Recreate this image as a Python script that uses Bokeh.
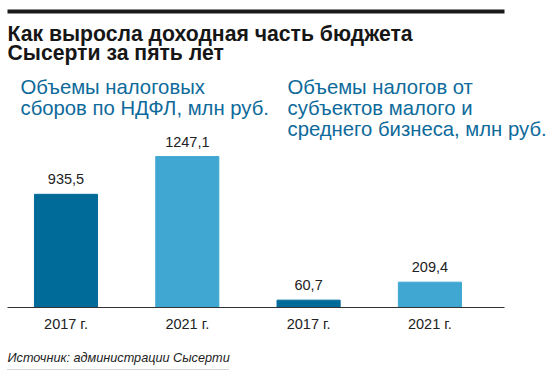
from bokeh.plotting import figure
from bokeh.models import Label, Range1d, ColumnDataSource
from bokeh.core.properties import value
from bokeh.embed import file_html
from bokeh.resources import INLINE

# ---- data ----
categories = ["2017 г.", "2021 г.", "2017 г.", "2021 г."]
groups = ["НДФЛ", "НДФЛ", "МСБ", "МСБ"]
values = [935.5, 1247.1, 60.7, 209.4]
colors = ["#006a99", "#3fa7d1", "#006a99", "#3fa7d1"]
title_lines = ["Как выросла доходная часть бюджета", "Сысерти за пять лет"]
left_sub = ["Объемы налоговых", "сборов по НДФЛ, млн руб."]
right_sub = ["Объемы налогов от", "субъектов малого и", "среднего бизнеса, млн руб."]
source_text = "Источник: администрации Сысерти"

# ---- layout (pixels) ----
W, H = 551, 377
X_PX = 121.3
X0_PX = 65.5
Y_PX = 0.121
BASE = 307

x_start = -X0_PX / X_PX
x_end = x_start + W / X_PX
y_start = -(H - BASE) / Y_PX
y_end = y_start + H / Y_PX

def dx(px):
    return x_start + px / X_PX

def dy(py):
    return y_start + (H - py) / Y_PX

FONT = "Liberation Sans"

p = figure(width=W, height=H, output_backend="svg", toolbar_location=None,
           x_range=Range1d(x_start, x_end), y_range=Range1d(y_start, y_end),
           min_border_left=0, min_border_right=0, min_border_top=0, min_border_bottom=0)
p.axis.visible = False
p.grid.visible = False
p.outline_line_color = None
p.background_fill_color = "white"
p.border_fill_color = "white"

idx = list(range(len(values)))
src = ColumnDataSource(dict(
    x=idx, top=values, color=colors, cat=categories,
    lab=[f"{v:.1f}".replace(".", ",") for v in values],
    zero=[0] * len(values),
))

p.vbar(x="x", top="top", bottom=0, width=0.52, color="color", source=src)

p.text(x="x", y="top", text="lab", source=src, text_align="center", text_baseline="middle",
       y_offset=-15, text_font=value(FONT), text_font_size="14.5px", text_color="#222222")
p.text(x="x", y="zero", text="cat", source=src, text_align="center", text_baseline="middle",
       y_offset=16.5, text_font=value(FONT), text_font_size="14.5px", text_color="#222222")

# rules
p.segment(x0=[dx(7)], y0=[0], x1=[dx(504)], y1=[0], line_color="#333333", line_width=1)
p.segment(x0=[dx(7)], y0=[dy(11)], x1=[dx(504)], y1=[dy(11)], line_color="#1a1a1a",
          line_width=4, line_cap="butt")

for i, t in enumerate(title_lines):
    p.add_layout(Label(x=dx(7), y=dy(32.5 + 19.5 * i), text=t, text_font=FONT, text_font_style="bold",
                       text_font_size="21.2px", text_color="#161616", text_baseline="middle"))

for i, t in enumerate(left_sub):
    p.add_layout(Label(x=dx(20), y=dy(86.5 + 21 * i), text=t, text_font=FONT,
                       text_font_size="20.3px", text_color="#0e6a9b", text_baseline="middle"))

for i, t in enumerate(right_sub):
    p.add_layout(Label(x=dx(287), y=dy(86.5 + 21 * i), text=t, text_font=FONT,
                       text_font_size="20.3px", text_color="#0e6a9b", text_baseline="middle"))

p.add_layout(Label(x=dx(7), y=dy(357.5), text=source_text, text_font=FONT, text_font_style="italic",
                   text_font_size="12.7px", text_color="#222222", text_baseline="middle"))
p.segment(x0=[dx(7)], y0=[dy(369)], x1=[dx(228)], y1=[dy(369)], line_color="#aaaaaa",
          line_width=1, line_dash="1 1")

open("out.html", "w").write(file_html(p, INLINE))
